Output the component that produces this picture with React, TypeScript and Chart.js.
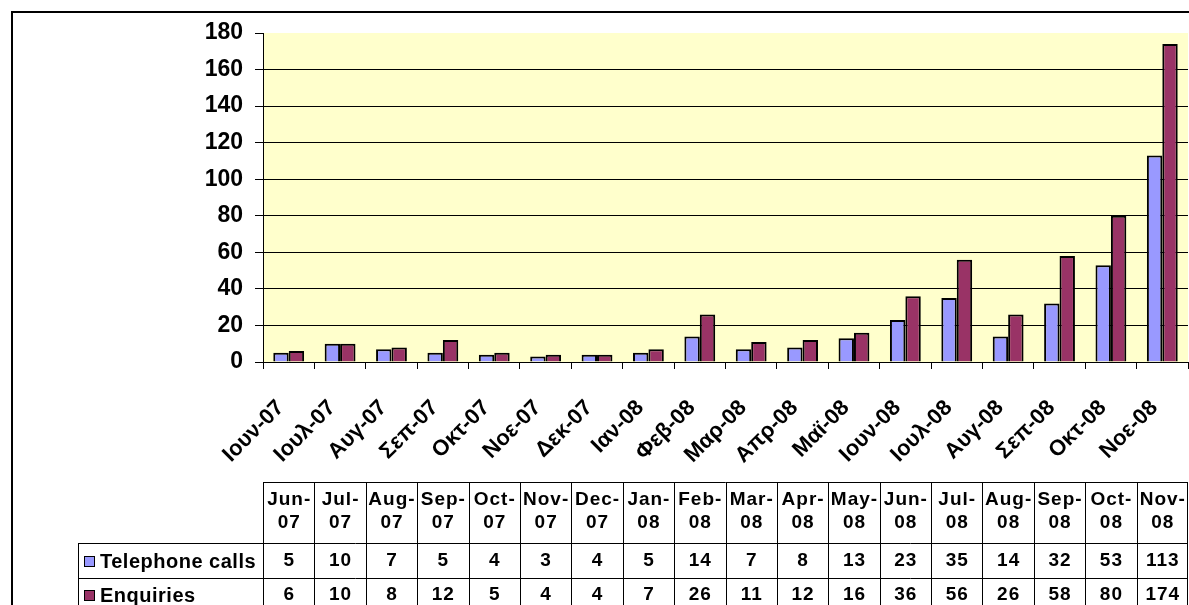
import React, { useEffect, useRef } from "react";
import { Chart, registerables } from "chart.js";

Chart.register(...registerables);

const categories = [
  "Ιουν-07", "Ιουλ-07", "Αυγ-07", "Σεπ-07", "Οκτ-07", "Νοε-07", "Δεκ-07", "Ιαν-08", "Φεβ-08",
  "Μαρ-08", "Απρ-08", "Μαϊ-08", "Ιουν-08", "Ιουλ-08", "Αυγ-08", "Σεπ-08", "Οκτ-08", "Νοε-08",
];
const tableHeaders = [
  "Jun-07", "Jul-07", "Aug-07", "Sep-07", "Oct-07", "Nov-07", "Dec-07", "Jan-08", "Feb-08",
  "Mar-08", "Apr-08", "May-08", "Jun-08", "Jul-08", "Aug-08", "Sep-08", "Oct-08", "Nov-08",
];
const telephoneCalls = [5, 10, 7, 5, 4, 3, 4, 5, 14, 7, 8, 13, 23, 35, 14, 32, 53, 113];
const enquiries = [6, 10, 8, 12, 5, 4, 4, 7, 26, 11, 12, 16, 36, 56, 26, 58, 80, 174];
const seriesNames = ["Telephone calls", "Enquiries"];
const seriesColors = ["#9999FF", "#993366"];
const yTicks = { min: 0, max: 180, step: 20 };

const FONT = "'Liberation Sans', Arial, sans-serif";

const decorPlugin = {
  id: "decor",
  beforeDraw(chart: any) {
    const { ctx, chartArea } = chart;
    ctx.save();
    ctx.fillStyle = "#FFFFFF";
    ctx.fillRect(0, 0, chart.width, chart.height);
    ctx.strokeStyle = "#000";
    ctx.lineWidth = 2;
    ctx.strokeRect(12, 12, 3000, 3000);
    ctx.fillStyle = "#FFFFCC";
    ctx.fillRect(chartArea.left, chartArea.top, chartArea.right - chartArea.left, chartArea.bottom - chartArea.top);
    ctx.restore();
  },
  afterDraw(chart: any) {
    const { ctx } = chart;
    const xs = chart.scales.x;
    const n = categories.length;
    const cw = (xs.getPixelForValue(1) - xs.getPixelForValue(0));
    const headTop = 482;
    const headBot = 543;
    const row1Bot = 578;
    const row2Bot = 613;
    const legLeft = 78;
    const legRight = xs.getPixelForValue(0) - cw / 2;
    ctx.save();
    ctx.strokeStyle = "#000";
    ctx.lineWidth = 1;
    const hline = (x1: number, x2: number, y: number) => {
      ctx.beginPath();
      ctx.moveTo(x1, Math.round(y) + 0.5);
      ctx.lineTo(x2, Math.round(y) + 0.5);
      ctx.stroke();
    };
    const vline = (x: number, y1: number, y2: number) => {
      ctx.beginPath();
      ctx.moveTo(Math.round(x) + 0.5, y1);
      ctx.lineTo(Math.round(x) + 0.5, y2);
      ctx.stroke();
    };
    const right = xs.getPixelForValue(n - 1) + cw / 2;
    hline(legRight, right, headTop);
    hline(legLeft, right, headBot);
    hline(legLeft, right, row1Bot);
    hline(legLeft, right, row2Bot);
    vline(legLeft, headBot, row2Bot);
    for (let i = 0; i <= n; i++) {
      const x = i < n ? xs.getPixelForValue(i) - cw / 2 : right - 1;
      vline(x, headTop, row2Bot);
    }
    ctx.fillStyle = "#000";
    ctx.textAlign = "center";
    ctx.textBaseline = "middle";
    ctx.font = `bold 19px ${FONT}`;
    (ctx as any).letterSpacing = "1px";
    for (let i = 0; i < n; i++) {
      const cx = xs.getPixelForValue(i) + 0.5;
      const [m, y] = tableHeaders[i].split("-");
      ctx.fillText(m + "-", cx, 500);
      ctx.fillText(y, cx, 523);
      ctx.fillText(String(telephoneCalls[i]), cx, 561);
      ctx.fillText(String(enquiries[i]), cx, 595);
    }
    // legend column
    const rowsY = [561, 595];
    ctx.textAlign = "left";
    ctx.font = `bold 20px ${FONT}`;
    (ctx as any).letterSpacing = "0.5px";
    for (let r = 0; r < 2; r++) {
      const cy = rowsY[r];
      ctx.fillStyle = seriesColors[r];
      ctx.fillRect(84, cy - 5, 11, 11);
      ctx.strokeStyle = "#000";
      ctx.lineWidth = 1;
      ctx.strokeRect(84.5, cy - 4.5, 10, 10);
      ctx.fillStyle = "#000";
      ctx.fillText(seriesNames[r], 100, cy + 1);
    }
    ctx.restore();
  },
};

export default function App() {
  const ref = useRef<HTMLCanvasElement | null>(null);
  useEffect(() => {
    if (!ref.current) return;
    const chart = new Chart(ref.current, {
      type: "bar",
      data: {
        labels: categories,
        datasets: [
          {
            label: seriesNames[0],
            data: telephoneCalls,
            backgroundColor: seriesColors[0],
            borderColor: "#000",
            borderWidth: 2,
            categoryPercentage: 0.6,
            barPercentage: 1.0,
          },
          {
            label: seriesNames[1],
            data: enquiries,
            backgroundColor: seriesColors[1],
            borderColor: "#000",
            borderWidth: 2,
            categoryPercentage: 0.6,
            barPercentage: 1.0,
          },
        ],
      },
      options: {
        responsive: false,
        animation: false,
        layout: { padding: { left: 0, top: 33, right: 1, bottom: 128 } },
        plugins: { legend: { display: false }, tooltip: { enabled: false } },
        scales: {
          x: {
            afterFit: (s: any) => {
              s.height = 115;
              s.paddingLeft = 0;
              s.paddingRight = 0;
            },
            grid: { drawOnChartArea: false, drawTicks: true, tickLength: 7, offset: true, color: "#000" },
            border: { color: "#000", width: 1 },
            ticks: {
              color: "#000",
              font: { family: FONT, size: 22, weight: "bold" },
              minRotation: 45,
              maxRotation: 45,
              autoSkip: false,
              padding: 26,
              labelOffset: -8,
            },
          },
          y: {
            min: yTicks.min,
            max: yTicks.max,
            afterFit: (s: any) => {
              s.width = 263;
              s.paddingTop = 0;
              s.paddingBottom = 0;
            },
            grid: {
              color: (c: any) => (c.tick && c.tick.value === yTicks.max ? "rgba(0,0,0,0)" : "#000"),
              tickColor: "#000",
              tickLength: 8,
            },
            border: { color: "#000", width: 1 },
            ticks: {
              stepSize: yTicks.step,
              color: "#000",
              padding: 12,
              font: { family: FONT, size: 23, weight: "bold" },
            },
          },
        },
      },
      plugins: [decorPlugin],
    });
    return () => chart.destroy();
  }, []);
  return (
    <div style={{ position: "fixed", left: 0, top: 0, width: 1189, height: 605 }}>
      <canvas ref={ref} width={1189} height={605} style={{ width: 1189, height: 605, display: "block" }} />
    </div>
  );
}
